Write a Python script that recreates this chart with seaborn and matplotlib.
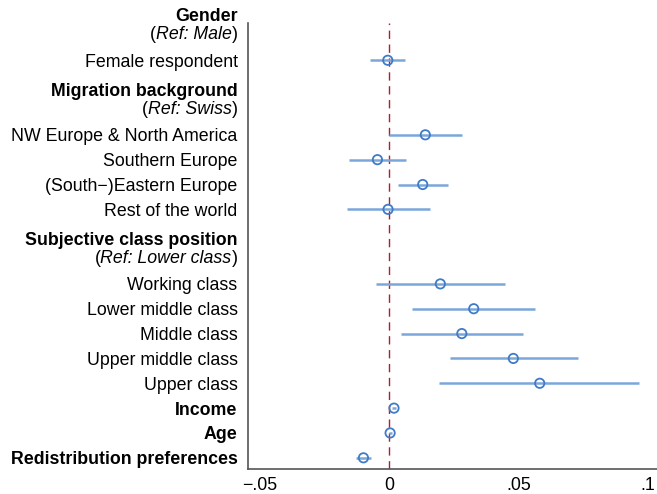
import matplotlib
matplotlib.use("Agg")
import matplotlib.pyplot as plt
import matplotlib.transforms as mtransforms
from matplotlib.offsetbox import TextArea, HPacker, AnnotationBbox
import seaborn as sns
import pandas as pd

sns.set_style("white")
plt.rcParams['font.family'] = ['Liberation Sans', 'DejaVu Sans']
plt.rcParams['text.color'] = 'black'
plt.rcParams['xtick.color'] = 'black'
plt.rcParams['ytick.color'] = 'black'
plt.rcParams['xtick.labelcolor'] = 'black'
plt.rcParams['ytick.labelcolor'] = 'black'

# Coefficients (rows in plotting order)
variables = ["Female respondent",
             "NW Europe & North America", "Southern Europe",
             "(South\u2212)Eastern Europe", "Rest of the world",
             "Working class", "Lower middle class", "Middle class",
             "Upper middle class", "Upper class",
             "Income", "Age", "Redistribution preferences"]
bold_rows = ["Income", "Age", "Redistribution preferences"]
row_pos = [0, 3, 4, 5, 6, 9, 10, 11, 12, 13, 14, 15, 16]
estimate = [-0.0006, 0.0139, -0.0046, 0.0129, -0.0005,
            0.0197, 0.0326, 0.0280, 0.0479, 0.0581,
            0.0018, 0.0003, -0.0100]
ci_low = [-0.0075, 0.0000, -0.0154, 0.0034, -0.0165,
          -0.0051, 0.0088, 0.0045, 0.0233, 0.0193,
          0.0010, -0.0003, -0.0129]
ci_high = [0.0062, 0.0280, 0.0063, 0.0225, 0.0156,
           0.0448, 0.0563, 0.0515, 0.0727, 0.0965,
           0.0026, 0.0009, -0.0071]

headers = ["Gender", "Migration background", "Subjective class position"]
header_refs = ["Ref: Male", "Ref: Swiss", "Ref: Lower class"]
header_pos = [-1.5, 1.5, 7.5]

x_ticks = [-0.05, 0, 0.05, 0.1]
x_tick_labels = ["\u2212.05", "0", ".05", ".1"]

df = pd.DataFrame({"variable": variables, "pos": row_pos, "est": estimate,
                   "lo": ci_low, "hi": ci_high})

FS = 12.8
fig = plt.figure(figsize=(6.57, 4.94), dpi=100)
ax = fig.add_axes([248/657, 25/494, 1 - 248/657, (469 - 23)/494])

line_col = "#7aa6da"
mark_col = "#3f7bc6"

ax.axvline(0, color="#b01e2c", lw=1.0, dashes=(6, 4), zorder=1)
ax.hlines(df["pos"], df["lo"], df["hi"], color=line_col, lw=1.8, zorder=2)
sns.scatterplot(data=df, x="est", y="pos", ax=ax, marker="o", s=45,
                facecolor="none", edgecolor=mark_col, linewidth=1.3, zorder=3,
                legend=False)

ax.set_yticks(row_pos)
ax.set_yticklabels(variables, fontsize=FS, color="black")
for t in ax.get_yticklabels():
    if t.get_text() in bold_rows:
        t.set_fontweight("bold")

ax.set_xticks(x_ticks)
ax.set_xticklabels(x_tick_labels, fontsize=FS, color="black")
ax.tick_params(axis="both", length=0)
ax.tick_params(axis="y", pad=7.5)
ax.tick_params(axis="x", pad=6)
ax.set_xlabel("")
ax.set_ylabel("")
ax.set_xlim(-0.0546, 0.1034)
ax.set_ylim(16.45, -1.5)

# group headers
trans = mtransforms.blended_transform_factory(ax.transAxes, ax.transData)
xa = -10.5 / (657 - 248)
for h, r, p in zip(headers, header_refs, header_pos):
    ax.text(xa, p - 0.26, h, transform=trans, ha="right", va="center",
            fontsize=FS, fontweight="bold", color="black", clip_on=False)
    pack = HPacker(children=[TextArea("(", textprops=dict(fontsize=FS, color="black")),
                             TextArea(r, textprops=dict(fontsize=FS, style="italic", color="black")),
                             TextArea(")", textprops=dict(fontsize=FS, color="black"))],
                   sep=0, pad=0, align="baseline")
    ab = AnnotationBbox(pack, (xa, p + 0.47), xycoords=trans,
                        box_alignment=(1, 0.5), frameon=False, pad=0,
                        annotation_clip=False)
    ax.add_artist(ab)

for s in ["top", "right"]:
    ax.spines[s].set_visible(False)
for s in ["left", "bottom"]:
    ax.spines[s].set_color("#555555")
    ax.spines[s].set_linewidth(1.2)

fig.savefig("out.png", dpi=100)
